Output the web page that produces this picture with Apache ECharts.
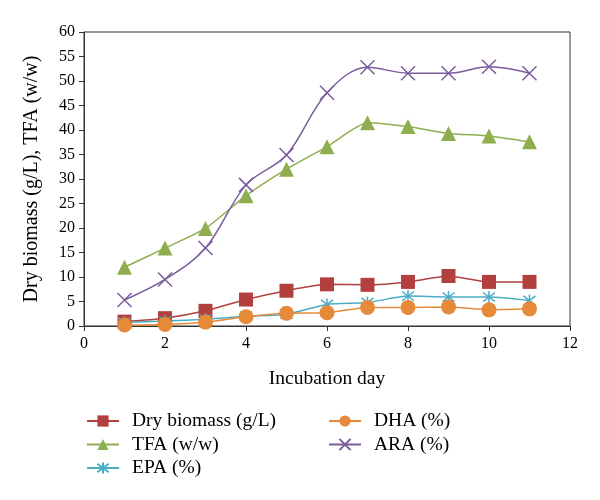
<!DOCTYPE html>
<html><head><meta charset="utf-8">
<script src="https://cdn.jsdelivr.net/npm/echarts@6/dist/echarts.min.js"></script>
<style>html,body{margin:0;padding:0;background:#fff}#c{width:600px;height:500px}</style>
</head><body><div id="c"></div>
<script>
const days = [1,2,3,4,5,6,7,8,9,10,11];
const dryBiomass = [0.9,1.6,3.1,5.4,7.2,8.5,8.4,9.0,10.2,9.0,9.0];
const tfa = [12.0,15.9,19.9,26.6,32.0,36.6,41.5,40.7,39.3,38.8,37.6];
const epa = [0.7,1.0,1.4,2.0,2.4,4.4,4.8,6.1,5.9,5.9,5.2];
const dha = [0.2,0.3,0.8,1.9,2.6,2.7,3.8,3.8,3.9,3.3,3.5];
const ara = [5.3,9.5,15.9,28.8,34.9,47.6,52.8,51.6,51.6,52.9,51.6];
const names = ['Dry biomass (g/L)','TFA (w/w)','EPA (%)','DHA (%)','ARA (%)'];
const xTicks = {min:0,max:12,interval:2};
const yTicks = {min:0,max:60,interval:5};

const font = 'Liberation Serif';
const pair = arr => days.map((d,i)=>[d,arr[i]]);
const X_PATH = 'path://M0,0L10,10M10,0L0,10';
const STAR_PATH = 'path://M0,0L10,10M10,0L0,10M5,-1.5L5,11.5';

function mk(name, data, color, symbol, size, smooth, stroke){
  return {
    name, type:'line', data:pair(data), smooth, symbol, symbolSize:size,
    lineStyle:{color, width:1.5},
    itemStyle: stroke ? {color:'rgba(0,0,0,0)', borderColor:color, borderWidth:1.5} : {color, borderColor:color, borderWidth:0},
    emphasis:{disabled:true}
  };
}

const legendText = {fontFamily:font, fontSize:19.5, color:'#000', padding:[0,0,0,8]};
const chart = echarts.init(document.getElementById('c'), null, {renderer:'canvas'});
chart.setOption({
  animation:false,
  textStyle:{fontFamily:font, color:'#000'},
  grid:{left:84, right:30, top:32, bottom:174, show:true, borderColor:'#333', borderWidth:1, backgroundColor:'#fff'},
  xAxis:{type:'value', min:xTicks.min, max:xTicks.max, interval:xTicks.interval,
    name:'Incubation day', nameLocation:'middle', nameGap:43,
    nameTextStyle:{fontFamily:font, fontSize:19.5, color:'#000'},
    axisLine:{show:true, onZero:false, lineStyle:{color:'#333', width:1}},
    axisTick:{show:true, length:5, lineStyle:{color:'#333'}},
    axisLabel:{fontFamily:font, fontSize:16, color:'#000', margin:10},
    splitLine:{show:false}},
  yAxis:{type:'value', min:yTicks.min, max:yTicks.max, interval:yTicks.interval,
    name:'Dry biomass (g/L), TFA (w/w)', nameLocation:'middle', nameGap:42,
    nameTextStyle:{fontFamily:font, fontSize:20, color:'#000'},
    axisLine:{show:true, lineStyle:{color:'#333', width:1}},
    axisTick:{show:true, length:5, lineStyle:{color:'#333'}},
    axisLabel:{fontFamily:font, fontSize:16, color:'#000', margin:9},
    splitLine:{show:false}},
  legend:[
    {orient:'vertical', left:81, top:406, itemWidth:32, itemHeight:14, itemGap:3.5,
     data:[names[0],names[1],names[2]], textStyle:legendText},
    {orient:'vertical', left:323, top:406, itemWidth:32, itemHeight:14, itemGap:3.5,
     data:[names[3],names[4]], textStyle:legendText}
  ],
  series:[
    mk(names[0], dryBiomass, '#B2403E', 'rect', 14, 0.2, false),
    mk(names[1], tfa, '#8FAE50', 'triangle', 15, 0.2, false),
    mk(names[2], epa, '#4BACC6', STAR_PATH, 12, 0.2, true),
    mk(names[3], dha, '#E68A3A', 'circle', 15, 0.2, false),
    mk(names[4], ara, '#7A5C9E', X_PATH, 14, 0.35, true)
  ]
});
</script></body></html>
